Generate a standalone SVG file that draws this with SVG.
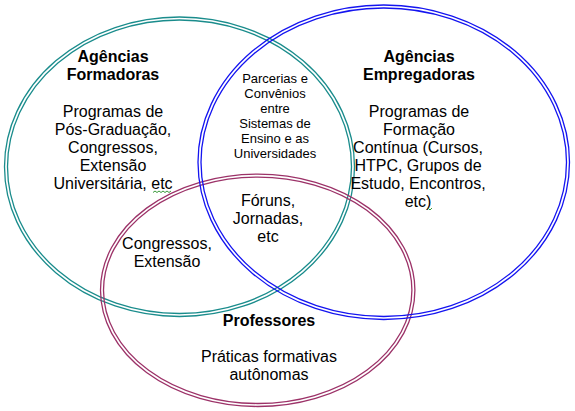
<svg xmlns="http://www.w3.org/2000/svg" width="575" height="411" viewBox="0 0 575 411">
<style>
.bg{fill:#ffffff}
.ring{fill:none;stroke-width:1.3}
.teal{stroke:#1a8c8c}
.blue{stroke:#1414f0}
.mag{stroke:#9c3268}
text{font-family:"Liberation Sans",Arial,sans-serif;fill:#000;text-anchor:middle}
.h{font-size:16px;font-weight:bold}
.t{font-size:16px}
.s{font-size:13px}
.sq{fill:none;stroke:#3a9a3a;stroke-width:1}
</style>
<rect class="bg" x="0" y="0" width="575" height="411"/>
<g id="connectors">
  <g id="ring-formadoras">
    <ellipse class="ring teal" cx="179.5" cy="166.75" rx="175" ry="149.75"/>
    <ellipse class="ring teal" cx="179.5" cy="166.75" rx="172" ry="146.75"/>
  </g>
  <g id="ring-professores">
    <ellipse class="ring mag" cx="257.7" cy="290.3" rx="157.2" ry="116.2"/>
    <ellipse class="ring mag" cx="257.7" cy="290.3" rx="154.2" ry="113.2"/>
  </g>
  <g id="ring-empregadoras">
    <ellipse class="ring blue" cx="383.75" cy="162.25" rx="185.75" ry="157.25"/>
    <ellipse class="ring blue" cx="383.75" cy="162.25" rx="182.75" ry="154.25"/>
  </g>
</g>
<g id="node-formadoras">
  <text class="h" x="113" y="62">Agências</text>
  <text class="h" x="113" y="80">Formadoras</text>
  <text class="t" x="113" y="117">Programas de</text>
  <text class="t" x="113" y="135">Pós-Graduação,</text>
  <text class="t" x="113" y="153">Congressos,</text>
  <text class="t" x="113" y="171">Extensão</text>
  <text class="t" x="113" y="189">Universitária, etc</text>
  <path class="sq" d="M153,192.5 l2,-1.5 l2,1.5 l2,-1.5 l2,1.5 l2,-1.5 l2,1.5 l2,-1.5 l2,1.5 l2,-1.5"/>
</g>
<g id="node-empregadoras">
  <text class="h" x="419" y="62">Agências</text>
  <text class="h" x="419" y="80">Empregadoras</text>
  <text class="t" x="419" y="117">Programas de</text>
  <text class="t" x="419" y="135">Formação</text>
  <text class="t" x="418" y="153">Contínua (Cursos,</text>
  <text class="t" x="418" y="171">HTPC, Grupos de</text>
  <text class="t" x="418" y="189">Estudo, Encontros,</text>
  <text class="t" x="418" y="207">etc)</text>
  <path class="sq" d="M428,208 l2,2 l2,-2"/>
</g>
<g id="node-parcerias">
  <text class="s" x="275" y="83">Parcerias e</text>
  <text class="s" x="275" y="98">Convênios</text>
  <text class="s" x="275" y="113">entre</text>
  <text class="s" x="275" y="128">Sistemas de</text>
  <text class="s" x="275" y="143">Ensino e as</text>
  <text class="s" x="275" y="158">Universidades</text>
</g>
<g id="node-foruns">
  <text class="t" x="268" y="206">Fóruns,</text>
  <text class="t" x="268" y="224">Jornadas,</text>
  <text class="t" x="268" y="242">etc</text>
</g>
<g id="node-congressos">
  <text class="t" x="167" y="249">Congressos,</text>
  <text class="t" x="167" y="267">Extensão</text>
</g>
<g id="node-professores">
  <text class="h" x="269" y="326">Professores</text>
  <text class="t" x="269" y="362">Práticas formativas</text>
  <text class="t" x="269" y="380">autônomas</text>
</g>
</svg>
